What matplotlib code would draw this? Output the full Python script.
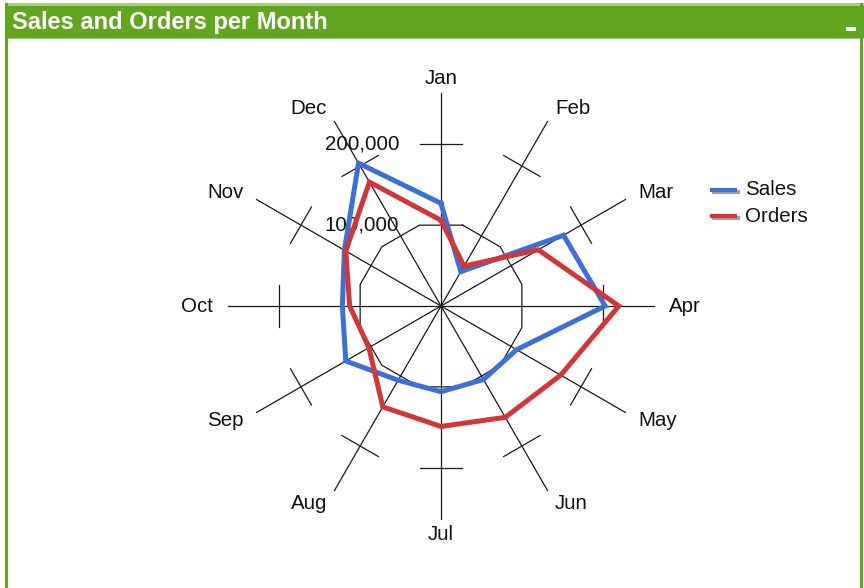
import numpy as np
import matplotlib
matplotlib.use("Agg")
import matplotlib.pyplot as plt
from matplotlib.patches import Rectangle

plt.rcParams['font.family'] = ['Liberation Sans', 'DejaVu Sans']

# ---- data -------------------------------------------------------------
months = ["Jan", "Feb", "Mar", "Apr", "May", "Jun",
          "Jul", "Aug", "Sep", "Oct", "Nov", "Dec"]
sales = [127000, 49000, 175000, 203000, 108000, 105000,
         106000, 106000, 136000, 122000, 138000, 204000]
orders = [106000, 57000, 139000, 220000, 171000, 159000,
          149000, 144000, 103000, 113000, 136000, 177000]
grid_values = [100000, 200000]
grid_labels = ["100,000", "200,000"]
title = "Sales and Orders per Month"
series_names = ["Sales", "Orders"]

# ---- styling ----------------------------------------------------------
W, H = 864, 588
GREEN = "#62a61f"
BLUE = "#3b6fd9"
RED = "#d23636"
PX = 80.85 / 100000.0          # pixels per value unit
CX, CY = 441, 306              # radar centre in pixels (from top-left)
AXIS_LEN = 213 / PX
LABEL_R = 228 / PX
TICK_HALF = 21 / PX
FS = 14.8

fig = plt.figure(figsize=(W / 100, H / 100), dpi=100)
fig.patch.set_facecolor("white")

# panel frame in pixel coordinates
frame = fig.add_axes([0, 0, 1, 1], zorder=0)
frame.set_xlim(0, W)
frame.set_ylim(H, 0)
frame.axis("off")
frame.add_patch(Rectangle((5, 3), W - 5, 36, facecolor=GREEN, edgecolor="none"))
frame.add_patch(Rectangle((5, 3), W - 5, 2.5, facecolor="#a5d077", edgecolor="none"))
frame.add_patch(Rectangle((5, 38), W - 5, 1.2, facecolor="#9cc96a", edgecolor="none"))
frame.add_patch(Rectangle((5, 3), 2.5, H, facecolor=GREEN, edgecolor="none"))
frame.add_patch(Rectangle((W - 4, 3), 2.5, H, facecolor=GREEN, edgecolor="none"))
frame.add_patch(Rectangle((846, 27), 10, 4, facecolor="white", edgecolor="none"))
frame.text(12, 22, title, color="white", fontsize=17, fontweight="bold",
           ha="left", va="center")

# legend
for i, (name, col) in enumerate(zip(series_names, [BLUE, RED])):
    y = 189.5 + i * 26.5
    frame.plot([711.5, 740], [y + 2.2, y + 2.2], color="#a0a0a0", lw=3.0,
               solid_capstyle="butt")
    frame.plot([710, 737], [y, y], color=col, lw=3.0, solid_capstyle="butt")
    frame.text(745, y, name, fontsize=FS, ha="left", va="center", color="#111")

# radar axes in value units
half = 250
ax = fig.add_axes([(CX - half) / W, (H - CY - half) / H, 2 * half / W, 2 * half / H],
                  zorder=1)
ax.set_xlim(-half / PX, half / PX)
ax.set_ylim(-half / PX, half / PX)
ax.axis("off")
ax.patch.set_alpha(0)

theta = np.deg2rad(np.arange(len(months)) * 360.0 / len(months))
ux, uy = np.sin(theta), np.cos(theta)

# spokes
for x, y in zip(ux, uy):
    ax.plot([0, x * AXIS_LEN], [0, y * AXIS_LEN], color="#1a1a1a", lw=0.9, zorder=2)

# inner gridline: polygon whose edges sit perpendicular to each spoke
g0 = grid_values[0]
phi = theta + np.deg2rad(15)
rv = g0 / np.cos(np.deg2rad(15))
px_ = np.append(rv * np.sin(phi), rv * np.sin(phi[0]))
py_ = np.append(rv * np.cos(phi), rv * np.cos(phi[0]))
ax.plot(px_, py_, color="#1a1a1a", lw=0.9, zorder=2)

# outer gridline: cross ticks on each spoke
g1 = grid_values[1]
for x, y in zip(ux, uy):
    cx, cy = x * g1, y * g1
    ax.plot([cx - y * TICK_HALF, cx + y * TICK_HALF],
            [cy + x * TICK_HALF, cy - x * TICK_HALF], color="#1a1a1a", lw=0.9, zorder=2)

# value labels
for v, lab in zip(grid_values, grid_labels):
    ax.annotate(lab, (0, v), xytext=(-42, 0), textcoords="offset pixels",
                ha="right", va="center", fontsize=FS, color="#111", zorder=1)

# month labels
for m, x, y in zip(months, ux, uy):
    ha = "left" if x > 0.1 else ("right" if x < -0.1 else "center")
    ax.text(x * LABEL_R, y * LABEL_R, m, ha=ha, va="center", fontsize=FS, color="#111")

# series
for vals, col, z in [(sales, BLUE, 5), (orders, RED, 6)]:
    v = np.array(vals + vals[:1], dtype=float)
    xs = v * np.append(ux, ux[0])
    ys = v * np.append(uy, uy[0])
    ax.plot(xs, ys, color=col, lw=3.6, zorder=z, solid_joinstyle="miter")

fig.savefig("out.png", dpi=100)
